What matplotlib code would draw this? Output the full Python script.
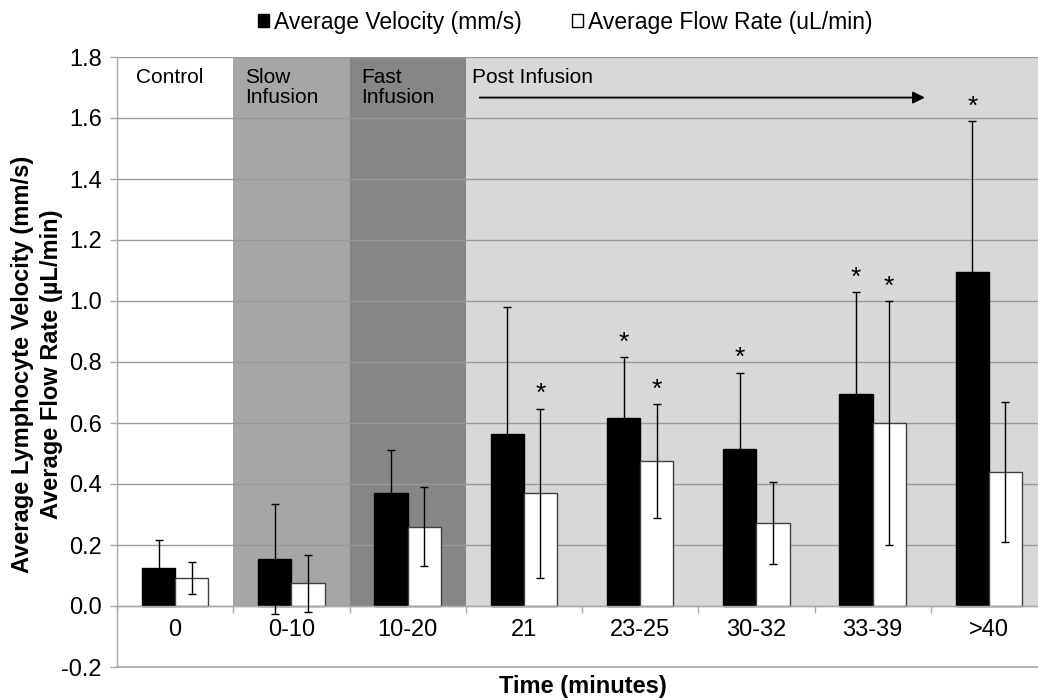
import numpy as np
import matplotlib
matplotlib.use('Agg')
import matplotlib.pyplot as plt
from matplotlib.patches import Patch

plt.rcParams['font.family'] = ['Liberation Sans', 'DejaVu Sans']

# Data
categories = ['0', '0-10', '10-20', '21', '23-25', '30-32', '33-39', '>40']
velocity = [0.125, 0.154, 0.37, 0.565, 0.615, 0.515, 0.695, 1.095]
velocity_err = [0.09, 0.18, 0.14, 0.415, 0.20, 0.25, 0.335, 0.495]
flow = [0.092, 0.074, 0.26, 0.37, 0.475, 0.271, 0.60, 0.44]
flow_err = [0.052, 0.093, 0.129, 0.277, 0.187, 0.134, 0.40, 0.23]
velocity_sig = [False, False, False, False, True, True, True, True]
flow_sig = [False, False, False, True, True, False, True, False]

# phases: label, first category, last category, colour
phases = [('Control', 0, 0, 'white'),
          ('Slow\nInfusion', 1, 1, '#a6a6a6'),
          ('Fast\nInfusion', 2, 2, '#868686'),
          ('Post Infusion', 3, 7, '#d8d8d8')]

fig = plt.figure(figsize=(10.38, 7), dpi=100)
# the chart is cropped on the right in the original, so the axes run past the edge
ax = fig.add_axes([117 / 1038, 1 - 667 / 700, 930 / 1038, 610 / 700])

x = np.arange(len(categories))
w = 0.2857

# background shading per phase (from 0 up to the top)
for label, a, b, col in phases:
    ax.fill_between([a - 0.5, b + 0.5], 0, 1.8, color=col, zorder=0, lw=0)
    if label == 'Post Infusion':
        ax.text(a - 0.45, 1.765, label, fontsize=15, va='top', ha='left')
        ax.annotate('', xy=(6.45, 1.667), xytext=(2.62, 1.667),
                    arrowprops=dict(arrowstyle='-|>', color='black', lw=1.3,
                                    mutation_scale=18, shrinkA=0, shrinkB=0))
    elif label == 'Control':
        ax.text(a - 0.34, 1.765, label, fontsize=15, va='top', ha='left')
    else:
        ax.text(a - 0.4, 1.765, label, fontsize=15, va='top', ha='left',
                linespacing=1.1)

ax.bar(x - w / 2, velocity, w, color='black', edgecolor='black', lw=1, zorder=2)
ax.bar(x + w / 2, flow, w, color='white', edgecolor='#404040', lw=1, zorder=2)
ax.errorbar(x - w / 2, velocity, yerr=velocity_err, fmt='none', ecolor='black',
            elinewidth=1, capsize=3, capthick=1, zorder=3)
ax.errorbar(x + w / 2, flow, yerr=flow_err, fmt='none', ecolor='black',
            elinewidth=1, capsize=3, capthick=1, zorder=3)

for i in range(len(categories)):
    if velocity_sig[i]:
        ax.text(x[i] - w / 2, velocity[i] + velocity_err[i] + 0.008, '*',
                fontsize=19, ha='center', va='bottom', zorder=4)
    if flow_sig[i]:
        ax.text(x[i] + w / 2, flow[i] + flow_err[i] + 0.008, '*',
                fontsize=19, ha='center', va='bottom', zorder=4)

ax.set_xlim(-0.5, len(categories) - 0.5)
ax.set_ylim(-0.2, 1.8)
ax.set_yticks(np.arange(-0.2, 1.81, 0.2))
ax.set_yticklabels(['%.1f' % v for v in np.arange(-0.2, 1.81, 0.2)])
ax.yaxis.grid(True, color='#999999', lw=1)
ax.set_axisbelow(True)
ax.axhline(-0.2, color='#aaaaaa', lw=1.2, clip_on=False, zorder=0.5)

# x axis sits at y = 0, boundary ticks + centred labels
ax.spines['bottom'].set_position(('data', 0))
ax.set_xticks(np.arange(-0.5, len(categories), 1.0))
ax.set_xticklabels([])
ax.set_xticks(x, minor=True)
ax.set_xticklabels(categories, minor=True)
ax.tick_params(axis='x', which='major', length=5, color='#aaaaaa', width=1)
ax.tick_params(axis='x', which='minor', length=0, pad=9, labelsize=17)
ax.tick_params(axis='y', length=5, color='#aaaaaa', width=1, pad=6, labelsize=17)
for s in ['top', 'right']:
    ax.spines[s].set_visible(False)
for s in ['left', 'bottom']:
    ax.spines[s].set_color('#aaaaaa')
    ax.spines[s].set_linewidth(1)

fig.text(583 / 1038, 1 - 687 / 700, 'Time (minutes)', fontsize=17,
         fontweight='bold', ha='center', va='center')
fig.text(37 / 1038, 1 - 364 / 700,
         'Average Lymphocyte Velocity (mm/s)\nAverage Flow Rate (µL/min)',
         fontsize=17, fontweight='bold', rotation=90, ha='center', va='center',
         multialignment='center', linespacing=1.3)

handles = [Patch(facecolor='black', edgecolor='black'),
           Patch(facecolor='white', edgecolor='black')]
fig.legend(handles, ['Average Velocity (mm/s)', 'Average Flow Rate (uL/min)'],
           loc='center', bbox_to_anchor=(565 / 1038, 1 - 22 / 700), ncol=2,
           frameon=False, fontsize=16.5, handlelength=0.5, handleheight=0.5,
           handletextpad=0.2, columnspacing=2.2)

fig.savefig('out.png', dpi=100)
